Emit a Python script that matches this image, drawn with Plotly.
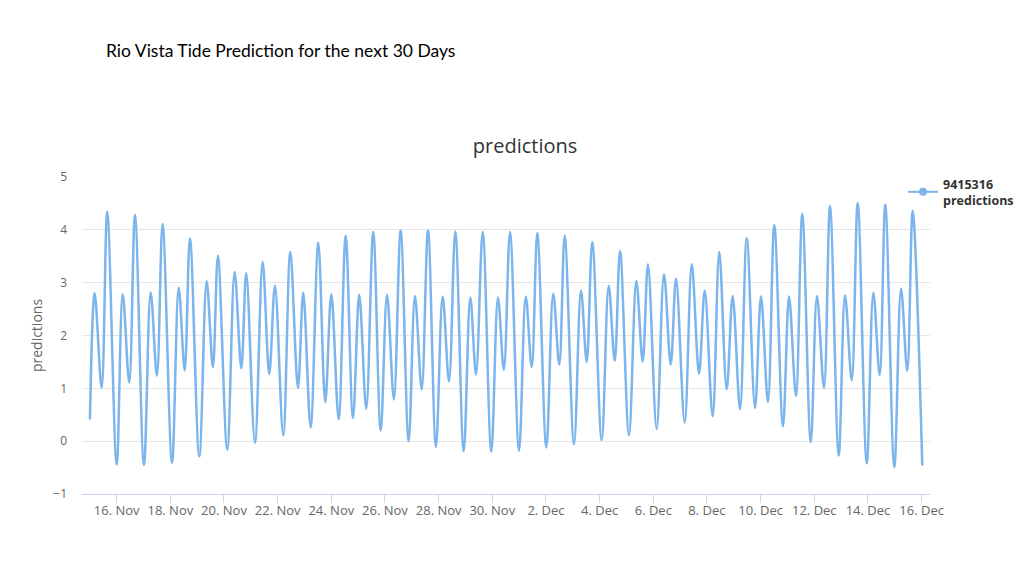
import plotly.graph_objects as go

# Tide extremes (station 9415316, Rio Vista)
times = [
    "2019-11-15 00:05", "2019-11-15 04:20", "2019-11-15 10:35", "2019-11-15 15:35",
    "2019-11-16 00:00", "2019-11-16 05:25", "2019-11-16 11:15", "2019-11-16 16:25",
    "2019-11-17 00:25", "2019-11-17 06:25", "2019-11-17 12:00", "2019-11-17 17:05",
    "2019-11-18 01:30", "2019-11-18 07:30", "2019-11-18 12:50", "2019-11-18 17:35",
    "2019-11-19 01:55", "2019-11-19 08:30", "2019-11-19 14:05", "2019-11-19 18:35",
    "2019-11-20 02:55", "2019-11-20 09:30", "2019-11-20 15:30", "2019-11-20 19:55",
    "2019-11-21 03:40", "2019-11-21 10:35", "2019-11-21 16:30", "2019-11-21 21:35",
    "2019-11-22 05:00", "2019-11-22 11:20", "2019-11-22 18:10", "2019-11-22 22:55",
    "2019-11-23 05:30", "2019-11-23 12:20", "2019-11-23 18:35", "2019-11-24 00:00",
    "2019-11-24 06:35", "2019-11-24 12:50", "2019-11-24 19:25", "2019-11-25 01:00",
    "2019-11-25 07:15", "2019-11-25 13:30", "2019-11-25 20:10", "2019-11-26 01:50",
    "2019-11-26 08:00", "2019-11-26 14:00", "2019-11-26 21:10", "2019-11-27 02:50",
    "2019-11-27 08:50", "2019-11-27 14:30", "2019-11-27 21:35", "2019-11-28 03:35",
    "2019-11-28 09:15", "2019-11-28 14:55", "2019-11-28 22:25", "2019-11-29 04:20",
    "2019-11-29 09:25", "2019-11-29 15:25", "2019-11-29 23:05", "2019-11-30 05:05",
    "2019-11-30 10:20", "2019-11-30 15:50", "2019-11-30 23:55", "2019-12-01 05:55",
    "2019-12-01 11:15", "2019-12-01 16:15", "2019-12-02 00:20", "2019-12-02 06:30",
    "2019-12-02 11:55", "2019-12-02 16:45", "2019-12-03 01:05", "2019-12-03 07:20",
    "2019-12-03 12:25", "2019-12-03 17:25", "2019-12-04 01:50", "2019-12-04 08:05",
    "2019-12-04 13:30", "2019-12-04 18:15", "2019-12-05 02:15", "2019-12-05 08:50",
    "2019-12-05 14:30", "2019-12-05 19:15", "2019-12-06 03:00", "2019-12-06 09:35",
    "2019-12-06 15:35", "2019-12-06 20:20", "2019-12-07 04:05", "2019-12-07 10:25",
    "2019-12-07 16:55", "2019-12-07 22:00", "2019-12-08 05:05", "2019-12-08 11:00",
    "2019-12-08 17:40", "2019-12-08 23:00", "2019-12-09 05:35", "2019-12-09 11:35",
    "2019-12-09 19:00", "2019-12-10 00:20", "2019-12-10 06:35", "2019-12-10 12:15",
    "2019-12-10 20:00", "2019-12-11 01:25", "2019-12-11 07:35", "2019-12-11 13:15",
    "2019-12-11 20:50", "2019-12-12 02:25", "2019-12-12 08:40", "2019-12-12 14:05",
    "2019-12-12 21:50", "2019-12-13 03:30", "2019-12-13 09:30", "2019-12-13 14:50",
    "2019-12-13 22:55", "2019-12-14 04:50", "2019-12-14 10:30", "2019-12-14 15:30",
    "2019-12-14 23:35", "2019-12-15 05:35", "2019-12-15 11:10", "2019-12-15 16:00",
    "2019-12-16 00:35",
]

predictions = [
    0.41, 2.80, 1.01, 4.34,
    -0.44, 2.78, 1.11, 4.28,
    -0.45, 2.82, 1.24, 4.11,
    -0.41, 2.91, 1.34, 3.84,
    -0.29, 3.03, 1.40, 3.51,
    -0.16, 3.20, 1.38, 3.18,
    -0.03, 3.39, 1.27, 2.94,
    0.11, 3.58, 1.01, 2.81,
    0.26, 3.76, 0.74, 2.78,
    0.42, 3.89, 0.44, 2.77,
    0.61, 3.96, 0.20, 2.77,
    0.79, 3.99, 0.00, 2.75,
    0.98, 3.99, -0.11, 2.74,
    1.13, 3.97, -0.19, 2.72,
    1.26, 3.96, -0.20, 2.72,
    1.35, 3.96, -0.18, 2.74,
    1.40, 3.94, -0.12, 2.79,
    1.45, 3.89, -0.06, 2.85,
    1.50, 3.77, 0.02, 2.94,
    1.52, 3.60, 0.11, 3.03,
    1.51, 3.35, 0.23, 3.16,
    1.45, 3.08, 0.35, 3.35,
    1.28, 2.85, 0.47, 3.58,
    0.98, 2.75, 0.60, 3.84,
    0.63, 2.74, 0.74, 4.09,
    0.28, 2.74, 0.86, 4.30,
    -0.02, 2.75, 1.01, 4.45,
    -0.27, 2.76, 1.15, 4.51,
    -0.42, 2.81, 1.25, 4.48,
    -0.49, 2.89, 1.33, 4.36,
    -0.46,
]

y_ticks = [-1, 0, 1, 2, 3, 4, 5]
line_color = "#7cb5ec"
label_font = "Open Sans, Lucida Grande, Arial, sans-serif"

fig = go.Figure()

fig.add_trace(go.Scatter(
    x=times,
    y=predictions,
    mode="lines",
    line=dict(color=line_color, width=2.5, shape="spline", smoothing=1.0),
    showlegend=False,
    hovertemplate="%{x}<br>%{y:.2f}<extra></extra>"
))

# Legend entry with the Highcharts-style line + marker symbol
fig.add_trace(go.Scatter(
    x=[None],
    y=[None],
    mode="lines+markers",
    name="<b>9415316<br>predictions</b>",
    line=dict(color=line_color, width=2),
    marker=dict(color=line_color, size=8, symbol="circle"),
))

# The page adds an 8px body margin, so the figure is nudged up/left by that much.
fig.update_layout(
    width=1024,
    height=576,
    paper_bgcolor="white",
    plot_bgcolor="white",
    margin=dict(l=74, r=102, t=169, b=90, autoexpand=False),
    font=dict(family=label_font, color="#666666"),
    title=dict(
        text="predictions",
        x=0.505,
        xanchor="center",
        y=0.7604,
        yanchor="middle",
        font=dict(family=label_font, size=20, color="#333333")
    ),
    legend=dict(
        x=0.9682,
        xanchor="left",
        y=1.025,
        yanchor="top",
        font=dict(size=12.5, color="#333333"),
        itemwidth=30,
        tracegroupgap=0,
        bgcolor="rgba(0,0,0,0)"
    ),
    annotations=[
        dict(
            text="Rio Vista Tide Prediction for the next 30 Days",
            xref="paper", yref="paper",
            x=0.026, y=1.40,
            xanchor="left", yanchor="middle",
            showarrow=False,
            font=dict(family="Lato, Open Sans, sans-serif", size=17.5, color="#000000")
        )
    ]
)

fig.update_xaxes(
    type="date",
    range=["2019-11-14 17:00", "2019-12-16 07:30"],
    tick0="2019-11-16",
    dtick=2 * 86400000,
    tickformat="%-d. %b",
    showgrid=False,
    showline=True,
    linecolor="#ccd6eb",
    linewidth=1,
    ticks="outside",
    ticklen=8,
    tickcolor="#ccd6eb",
    tickfont=dict(size=13, color="#666666"),
    ticklabelstandoff=-4,
    zeroline=False
)

fig.update_yaxes(
    range=[-1, 5],
    tickvals=y_ticks,
    showgrid=True,
    gridcolor="#e6e6e6",
    zeroline=False,
    showline=False,
    tickfont=dict(size=12, color="#666666"),
    ticklabelstandoff=14,
    title=dict(text="predictions", font=dict(size=14, color="#666666"), standoff=7)
)

fig.write_html("out.html")
